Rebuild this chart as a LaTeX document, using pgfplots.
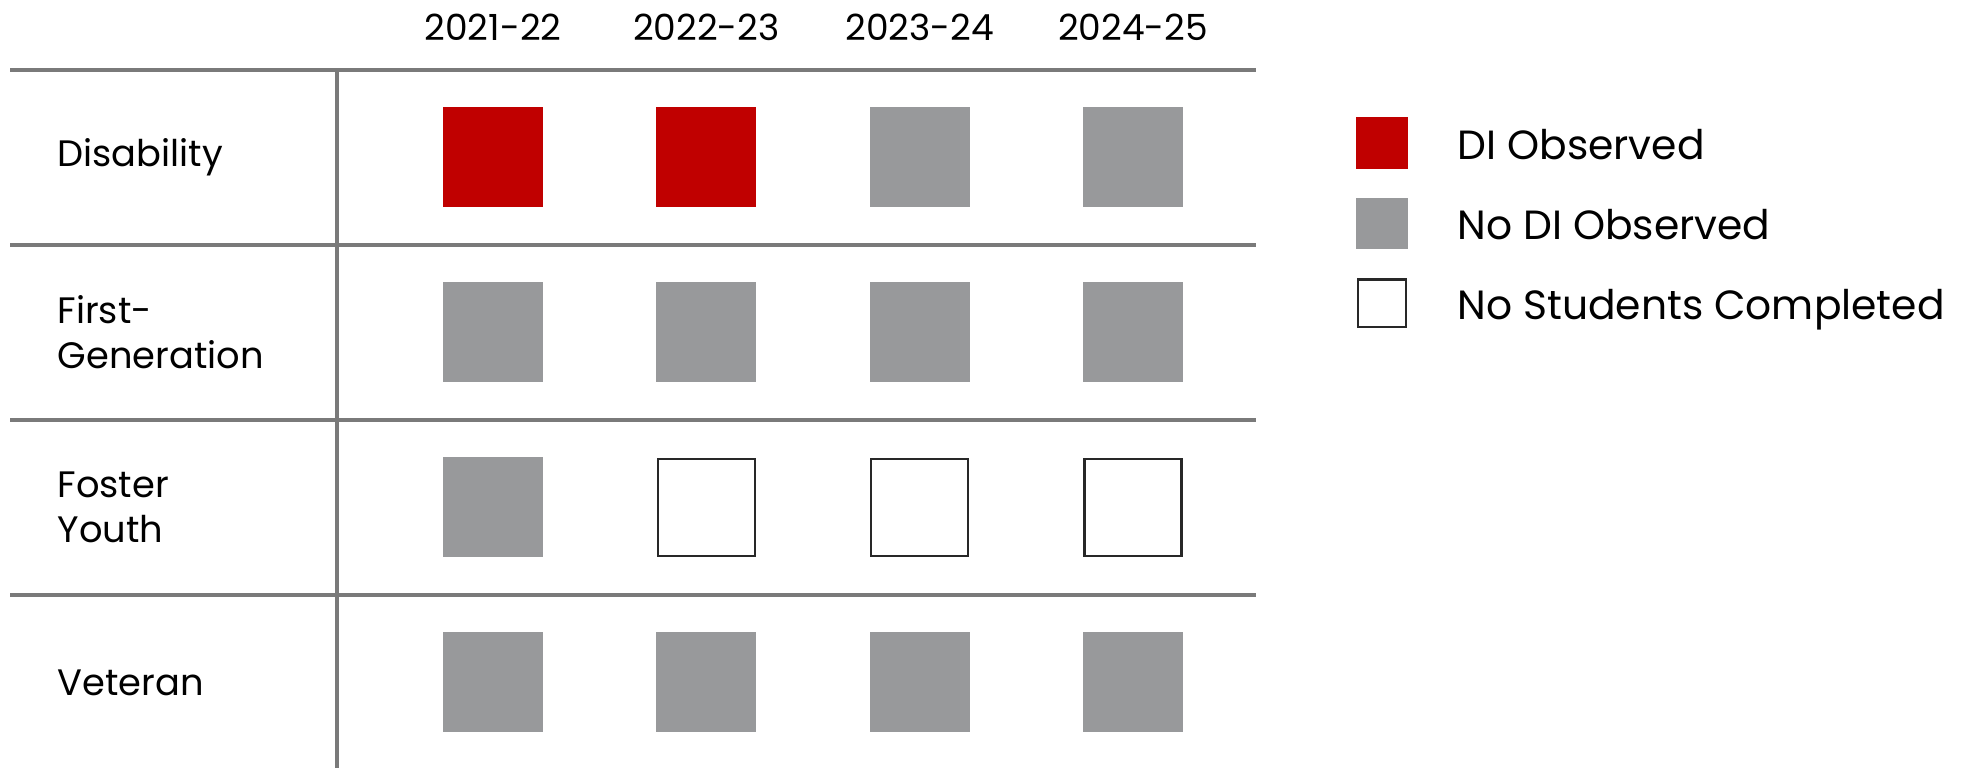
\documentclass[border=0pt]{standalone}
\usepackage{pgfplots}
\pgfplotsset{compat=1.18}
\usepackage{fontspec}
\setmainfont{Poppins}
\definecolor{dired}{RGB}{192,0,0}
\definecolor{nodigray}{RGB}{152,153,155}
\definecolor{rulegray}{RGB}{122,122,122}
\definecolor{boxedge}{RGB}{40,40,40}

\begin{document}
\begin{tikzpicture}
\begin{axis}[
  width=229.75pt, height=174.5pt, scale only axis,
  xmin=-0.731, xmax=3.577, ymin=-0.489, ymax=3.5,
  clip=false,
  axis line style={draw=none},
  major tick length=0pt,
  xtick={0,1,2,3},
  xticklabels={2021-22,2022-23,2023-24,2024-25},
  xticklabel pos=upper,
  xticklabel style={font=\fontsize{9}{11}\selectfont, anchor=base, yshift=7.25pt},
  ytick={0,1,2,3},
  yticklabels={Veteran,{Foster\\Youth},{First-\\Generation},Disability},
  yticklabel style={font=\fontsize{9.2}{11.3}\selectfont, align=left, anchor=west, xshift=-73.4pt},
  legend style={at={(1.1088,0.932)}, anchor=north west, draw=none, fill=none,
    inner sep=0pt, outer sep=0pt, row sep=7.2pt, column sep=12.5pt,
    nodes={inner sep=0pt}, font=\fontsize{10.2}{12}\selectfont},
  legend cell align=left,
]
% DI observed
\addplot[only marks, color=dired, mark=square*, mark size=12.375pt,
  mark options={fill=dired, draw=dired, line width=0pt}, forget plot]
  coordinates {(0,3) (1,3)};
% no DI observed
\addplot[only marks, color=nodigray, mark=square*, mark size=12.375pt,
  mark options={fill=nodigray, draw=nodigray, line width=0pt}, forget plot]
  coordinates {(2,3) (3,3) (0,2) (1,2) (2,2) (3,2) (0,1) (0,0) (1,0) (2,0) (3,0)};
% no students completed
\addplot[only marks, color=boxedge, mark=square*, mark size=12.1pt,
  mark options={fill=white, draw=boxedge, line width=0.6pt}, forget plot]
  coordinates {(1,1) (2,1) (3,1)};

\addlegendimage{legend image code/.code={\fill[dired] (0pt,-5.3pt) rectangle (12.5pt,7.2pt);}}
\addlegendentry{DI Observed}
\addlegendimage{legend image code/.code={\fill[nodigray] (0pt,-5.3pt) rectangle (12.5pt,7.2pt);}}
\addlegendentry{No DI Observed}
\addlegendimage{legend image code/.code={\filldraw[fill=white, draw=boxedge, line width=0.6pt] (0.3pt,-5.0pt) rectangle (12.2pt,6.9pt);}}
\addlegendentry{No Students Completed}

% table rules
\draw[rulegray, line width=0.8pt] (axis cs:-2.264,3.5) -- (axis cs:3.577,3.5);
\draw[rulegray, line width=0.8pt] (axis cs:-2.264,2.5) -- (axis cs:3.577,2.5);
\draw[rulegray, line width=0.8pt] (axis cs:-2.264,1.5) -- (axis cs:3.577,1.5);
\draw[rulegray, line width=0.8pt] (axis cs:-2.264,0.5) -- (axis cs:3.577,0.5);
\draw[rulegray, line width=0.8pt] (axis cs:-0.731,3.5) -- (axis cs:-0.731,-0.489);
% canvas
\path (axis cs:-2.311,3.9) rectangle (axis cs:6.881,-0.489);
\end{axis}
\end{tikzpicture}
\end{document}
